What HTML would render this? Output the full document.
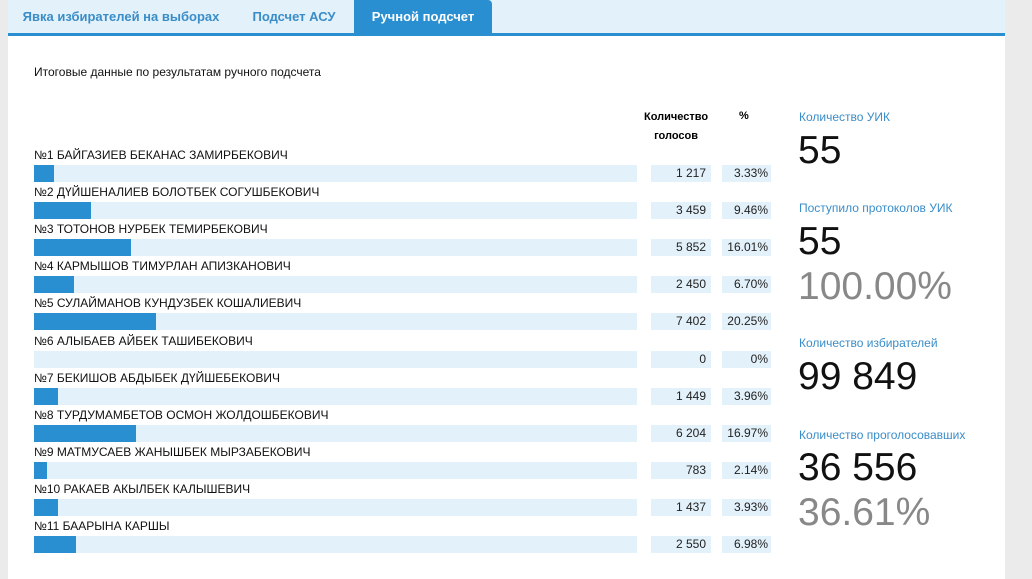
<!DOCTYPE html>
<html><head><meta charset="utf-8"><style>
body{margin:0;width:1032px;height:579px;background:#ebebeb;font-family:"Liberation Sans",sans-serif;position:relative;overflow:hidden}
.panel{position:absolute;left:8px;top:0;width:997px;height:579px;background:#fff}
.tabs{position:absolute;left:8px;top:0;width:997px;height:33px;background:#e3f1fa;border-bottom:3px solid #2a8fd0}
.tab{position:absolute;top:0;height:33px;line-height:34px;font-size:13px;font-weight:bold;color:#3a8dc8;text-align:center}
.abs{position:absolute;white-space:nowrap}
.name{font-size:12px;color:#111}
.track{position:absolute;left:34px;width:603px;height:17px;background:#e3f1fa}
.fill{position:absolute;left:0;top:0;height:17px;background:#2a8fd0}
.c{position:absolute;height:17px;background:#e3f1fa;font-size:12px;line-height:17px;text-align:right;color:#222;box-sizing:border-box;padding-right:5px}
.lab{font-size:12px;color:#3a8dc8;left:799px}
.big{font-size:39px;color:#111;left:798px;font-weight:300}
.gray{color:#888}
</style></head><body>
<div class="panel"></div>
<div class="tabs">
<div class="tab" style="left:0;width:226px">Явка избирателей на выборах</div>
<div class="tab" style="left:226px;width:120px">Подсчет АСУ</div>
<div class="tab" style="left:346px;width:138px;background:#2a8fd0;color:#fff;border-radius:0 4px 0 0">Ручной подсчет</div>
</div>
<div class="abs name" style="left:34px;top:65px">Итоговые данные по результатам ручного подсчета</div>
<div class="abs" style="left:644px;top:108px;font-size:11px;font-weight:bold;text-align:center;line-height:19px">Количество<br>голосов</div>
<div class="abs" style="left:739px;top:110px;font-size:11px;font-weight:bold">%</div>
<div id="rows"></div>
<div class="abs lab" style="top:110px">Количество УИК</div>
<div class="abs big" style="top:129px">55</div>
<div class="abs lab" style="top:201px">Поступило протоколов УИК</div>
<div class="abs big" style="top:220px">55</div>
<div class="abs big gray" style="top:265px">100.00%</div>
<div class="abs lab" style="top:336px">Количество избирателей</div>
<div class="abs big" style="top:355px">99 849</div>
<div class="abs lab" style="top:428px">Количество проголосовавших</div>
<div class="abs big" style="top:446px">36 556</div>
<div class="abs big gray" style="top:491px">36.61%</div>
<script>
var d=[["№1 БАЙГАЗИЕВ БЕКАНАС ЗАМИРБЕКОВИЧ","1 217","3.33"],["№2 ДҮЙШЕНАЛИЕВ БОЛОТБЕК СОГУШБЕКОВИЧ","3 459","9.46"],["№3 ТОТОНОВ НУРБЕК ТЕМИРБЕКОВИЧ","5 852","16.01"],["№4 КАРМЫШОВ ТИМУРЛАН АПИЗКАНОВИЧ","2 450","6.70"],["№5 СУЛАЙМАНОВ КУНДУЗБЕК КОШАЛИЕВИЧ","7 402","20.25"],["№6 АЛЫБАЕВ АЙБЕК ТАШИБЕКОВИЧ","0","0"],["№7 БЕКИШОВ АБДЫБЕК ДҮЙШЕБЕКОВИЧ","1 449","3.96"],["№8 ТУРДУМАМБЕТОВ ОСМОН ЖОЛДОШБЕКОВИЧ","6 204","16.97"],["№9 МАТМУСАЕВ ЖАНЫШБЕК МЫРЗАБЕКОВИЧ","783","2.14"],["№10 РАКАЕВ АКЫЛБЕК КАЛЫШЕВИЧ","1 437","3.93"],["№11 БААРЫНА КАРШЫ","2 550","6.98"]];
var h="";
d.forEach(function(r,i){var y=165+i*37.1;
h+='<div class="abs name" style="left:34px;top:'+(y-17)+'px">'+r[0]+'</div>';
h+='<div class="track" style="top:'+y+'px"><div class="fill" style="width:'+(parseFloat(r[2])*6.03)+'px"></div></div>';
h+='<div class="c" style="left:651px;width:60px;top:'+y+'px">'+r[1]+'</div>';
h+='<div class="c" style="left:722px;width:49px;top:'+y+'px;padding-right:3px">'+r[2]+'%</div>';});
document.getElementById("rows").innerHTML=h;
</script>
</body></html>
